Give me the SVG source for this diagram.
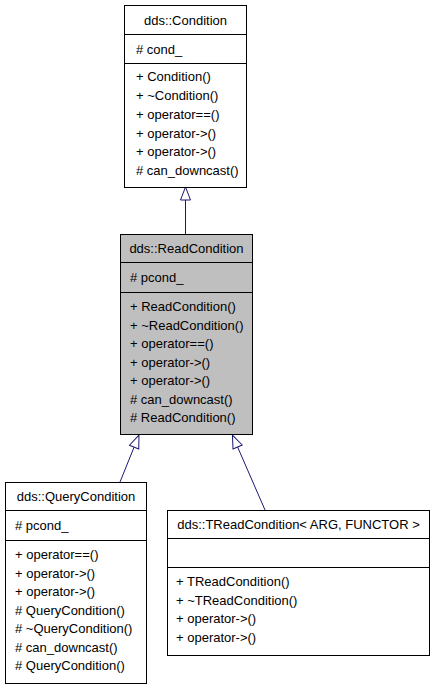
<svg xmlns="http://www.w3.org/2000/svg" width="435" height="688" viewBox="0 0 435 688">
<style>
text{font-family:"Liberation Sans",Arial,sans-serif;font-size:13px;fill:#000;dominant-baseline:central}
.c{text-anchor:middle}
.box{fill:#fff;stroke:#000;stroke-width:1}
.cur{fill:#bfbfbf;stroke:#000;stroke-width:1}
.div{stroke:#000;stroke-width:1}
.edge{stroke:#191970;stroke-width:1;fill:none}
</style>
<defs>
<marker id="inh" markerUnits="userSpaceOnUse" markerWidth="15" markerHeight="12" refX="0" refY="0" viewBox="0 -6 15 12" orient="auto" overflow="visible">
<path d="M0,-5 L13,0 L0,5 Z" fill="#fff" stroke="#191970" stroke-width="1"/>
</marker>
</defs>
<rect width="435" height="688" fill="#fff"/>
<g id="edges">
<line class="edge" x1="185.5" y1="234" x2="185.5" y2="200" marker-end="url(#inh)"/>
<line class="edge" x1="120" y1="482" x2="134.1" y2="447.1" marker-end="url(#inh)"/>
<line class="edge" x1="265" y1="510" x2="237.6" y2="447" marker-end="url(#inh)"/>
</g>
<g id="Condition">
<rect class="box" x="124.5" y="5.5" width="122" height="182"/>
<line class="div" x1="124.5" y1="34.5" x2="246.5" y2="34.5"/>
<line class="div" x1="124.5" y1="63.5" x2="246.5" y2="63.5"/>
<text class="c" x="185.5" y="20">dds::Condition</text>
<text x="136" y="49"># cond_</text>
<text x="136" y="76">+ Condition()</text>
<text x="136" y="95">+ ~Condition()</text>
<text x="136" y="114">+ operator==()</text>
<text x="136" y="133">+ operator-&gt;()</text>
<text x="136" y="151">+ operator-&gt;()</text>
<text x="136" y="170"># can_downcast()</text>
</g>
<g id="ReadCondition">
<rect class="cur" x="120.5" y="234.5" width="132" height="200"/>
<line class="div" x1="120.5" y1="262.5" x2="252.5" y2="262.5"/>
<line class="div" x1="120.5" y1="292.5" x2="252.5" y2="292.5"/>
<text class="c" x="186.5" y="248">dds::ReadCondition</text>
<text x="130" y="277"># pcond_</text>
<text x="130" y="306">+ ReadCondition()</text>
<text x="130" y="325">+ ~ReadCondition()</text>
<text x="130" y="343">+ operator==()</text>
<text x="130" y="362">+ operator-&gt;()</text>
<text x="130" y="380">+ operator-&gt;()</text>
<text x="130" y="399"># can_downcast()</text>
<text x="130" y="417"># ReadCondition()</text>
</g>
<g id="QueryCondition">
<rect class="box" x="5.5" y="482.5" width="141" height="201"/>
<line class="div" x1="5.5" y1="510.5" x2="146.5" y2="510.5"/>
<line class="div" x1="5.5" y1="540.5" x2="146.5" y2="540.5"/>
<text class="c" x="76" y="496">dds::QueryCondition</text>
<text x="15" y="525"># pcond_</text>
<text x="15" y="554">+ operator==()</text>
<text x="15" y="573">+ operator-&gt;()</text>
<text x="15" y="591">+ operator-&gt;()</text>
<text x="15" y="610"># QueryCondition()</text>
<text x="15" y="628"># ~QueryCondition()</text>
<text x="15" y="647"># can_downcast()</text>
<text x="15" y="665"># QueryCondition()</text>
</g>
<g id="TReadCondition">
<rect class="box" x="167.5" y="510.5" width="262" height="145"/>
<line class="div" x1="167.5" y1="538.5" x2="429.5" y2="538.5"/>
<line class="div" x1="167.5" y1="567.5" x2="429.5" y2="567.5"/>
<text class="c" x="298.5" y="524">dds::TReadCondition&lt; ARG, FUNCTOR &gt;</text>
<text x="176" y="581">+ TReadCondition()</text>
<text x="176" y="600">+ ~TReadCondition()</text>
<text x="176" y="618">+ operator-&gt;()</text>
<text x="176" y="637">+ operator-&gt;()</text>
</g>
</svg>
